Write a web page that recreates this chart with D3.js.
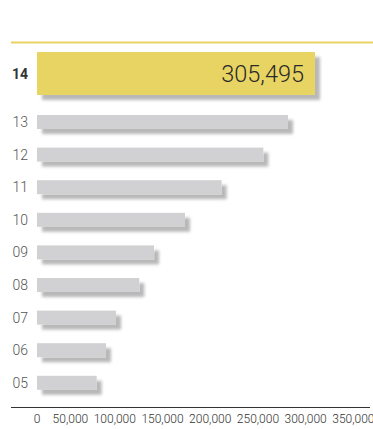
<!DOCTYPE html>
<html>
<head>
<meta charset="utf-8">
<script src="https://cdn.jsdelivr.net/npm/d3@7"></script>
<style>
  html, body { margin: 0; padding: 0; background: #fff; }
  svg { display: block; font-family: Roboto, "Noto Sans", sans-serif; }
</style>
</head>
<body>
<svg id="chart" width="373" height="429"></svg>
<script>
// Yearly totals, latest year first
const categories = ["14", "13", "12", "11", "10", "09", "08", "07", "06", "05"];
const values = [305495, 275800, 248700, 202900, 162600, 128600, 112400, 86800, 75800, 65600];
const highlightCategory = "14";
const tickValues = [0, 50000, 100000, 150000, 200000, 250000, 300000, 350000];

const W = 373, H = 429;
const svg = d3.select("#chart");

const rows = categories.map((c, i) => ({ cat: c, value: values[i] }));
const topRow = rows.find(d => d.cat === highlightCategory);
const restRows = rows.filter(d => d.cat !== highlightCategory);

// Drop shadow shared by all bars
const defs = svg.append("defs");
const f = defs.append("filter").attr("id", "shadow")
  .attr("x", "-10%").attr("y", "-30%").attr("width", "130%").attr("height", "200%");
f.append("feDropShadow")
  .attr("dx", 5).attr("dy", 5).attr("stdDeviation", 1.8)
  .attr("flood-color", "#000").attr("flood-opacity", 0.28);

// Scales
const x = d3.scaleLinear().domain([0, 350000]).range([37, 355.5]);
const yTop = d3.scaleBand().domain([topRow.cat]).range([52, 95]);
const yRest = d3.scaleBand().domain(restRows.map(d => d.cat))
  .range([105.7, 399.1]).paddingInner(0.5706).paddingOuter(0.2853);

// Top rule
svg.append("line")
  .attr("x1", 11).attr("x2", W).attr("y1", 42.5).attr("y2", 42.5)
  .attr("stroke", "#e8d462").attr("stroke-width", 2);

// Highlighted year
svg.append("rect")
  .attr("x", x(0)).attr("y", yTop(topRow.cat))
  .attr("width", x(topRow.value) - x(0)).attr("height", yTop.bandwidth())
  .attr("fill", "#e8d462").attr("filter", "url(#shadow)");

svg.append("text")
  .attr("x", x(topRow.value) - 11)
  .attr("y", yTop(topRow.cat) + yTop.bandwidth() / 2 + 8.5)
  .attr("text-anchor", "end")
  .attr("font-size", 23.5).attr("font-weight", 300)
  .attr("fill", "#2a2a2a")
  .text(d3.format(",")(topRow.value));

svg.append("text")
  .attr("x", 28).attr("y", yTop(topRow.cat) + yTop.bandwidth() / 2)
  .attr("dy", "0.36em").attr("text-anchor", "end")
  .attr("font-size", 14).attr("font-weight", 700).attr("fill", "#333")
  .text(topRow.cat);

// Earlier years
svg.append("g").selectAll("rect").data(restRows).join("rect")
  .attr("x", x(0)).attr("y", d => yRest(d.cat))
  .attr("width", d => x(d.value) - x(0)).attr("height", yRest.bandwidth())
  .attr("fill", "#d1d1d3").attr("filter", "url(#shadow)");

svg.append("g").selectAll("text").data(restRows).join("text")
  .attr("x", 28).attr("y", d => yRest(d.cat) + yRest.bandwidth() / 2)
  .attr("dy", "0.36em").attr("text-anchor", "end")
  .attr("font-size", 14).attr("font-weight", 300).attr("fill", "#555")
  .text(d => d.cat);

// Bottom axis
svg.append("line")
  .attr("x1", 11).attr("x2", 370).attr("y1", 407.5).attr("y2", 407.5)
  .attr("stroke", "#333").attr("stroke-width", 1);

const xAxisScale = d3.scaleLinear().domain([0, 350000]).range([40, 374]);
const axis = svg.append("g")
  .attr("transform", "translate(0,414)")
  .call(d3.axisBottom(xAxisScale).tickValues(tickValues)
    .tickSize(0).tickPadding(0).tickFormat(d3.format(",")));
axis.select(".domain").remove();
axis.selectAll("text")
  .attr("text-anchor", "end")
  .attr("font-family", "Roboto, sans-serif")
  .attr("font-size", 12).attr("font-weight", 300)
  .attr("fill", "#333");
</script>
</body>
</html>
